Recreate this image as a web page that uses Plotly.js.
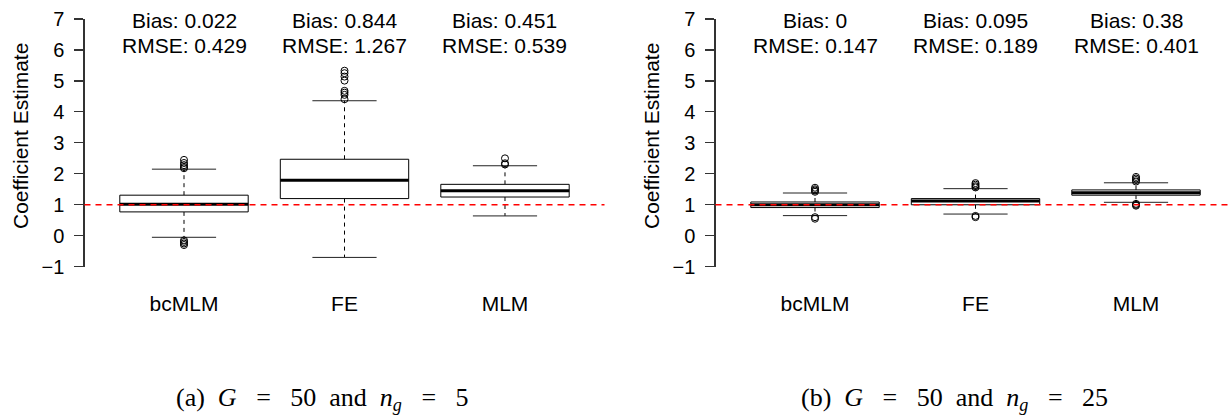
<!DOCTYPE html>
<html>
<head>
<meta charset="utf-8">
<script src="https://cdn.plot.ly/plotly-3.0.1.min.js"></script>
<style>html,body{margin:0;padding:0;background:#fff;}#chart{width:1230px;height:417px;}</style>
</head>
<body>
<div id="chart"></div>
<script>
// ---------- data ----------
const categories = ['bcMLM', 'FE', 'MLM'];
const yTicks = [-1, 0, 1, 2, 3, 4, 5, 6, 7];
const trueValue = 1;

// Panel (a): G = 50, n_g = 5
const aQ1 = [0.77, 1.20, 1.25];
const aMedian = [1.02, 1.79, 1.455];
const aQ3 = [1.31, 2.47, 1.66];
const aLowerWhisker = [-0.05, -0.70, 0.64];
const aUpperWhisker = [2.15, 4.36, 2.26];
const aOutliers = [
  [2.18, 2.22, 2.28, 2.35, 2.45, -0.15, -0.2, -0.25, -0.3],
  [4.41, 4.55, 4.62, 4.68, 5.01, 5.14, 5.25, 5.33],
  [2.3, 2.34, 2.5]
];
const aBias = ['0.022', '0.844', '0.451'];
const aRmse = ['0.429', '1.267', '0.539'];
const aCaption = '(a)&nbsp;&nbsp;<i>G</i>&nbsp;&nbsp;&nbsp;=&nbsp;&nbsp;&nbsp;50&nbsp;&nbsp;and&nbsp;&nbsp;<i>n<sub>g</sub></i>&nbsp;&nbsp;&nbsp;=&nbsp;&nbsp;&nbsp;5';

// Panel (b): G = 50, n_g = 25
const bQ1 = [0.91, 1.00, 1.31];
const bMedian = [1.00, 1.12, 1.39];
const bQ3 = [1.09, 1.20, 1.48];
const bLowerWhisker = [0.65, 0.70, 1.08];
const bUpperWhisker = [1.38, 1.52, 1.71];
const bOutliers = [
  [1.42, 1.46, 1.5, 1.55, 0.55, 0.6],
  [1.56, 1.6, 1.65, 1.7, 0.6, 0.64],
  [1.75, 1.8, 1.85, 1.9, 0.97, 1.0, 1.03]
];
const bBias = ['0', '0.095', '0.38'];
const bRmse = ['0.147', '0.189', '0.401'];
const bCaption = '(b)&nbsp;&nbsp;<i>G</i>&nbsp;&nbsp;&nbsp;=&nbsp;&nbsp;&nbsp;50&nbsp;&nbsp;and&nbsp;&nbsp;<i>n<sub>g</sub></i>&nbsp;&nbsp;&nbsp;=&nbsp;&nbsp;&nbsp;25';

// ---------- drawing ----------
const SANS = 'Liberation Sans, Arial, sans-serif';
const SERIF = 'Liberation Serif, Times New Roman, serif';
const HALF = 0.4;   // half box width (R default width 0.8)
const CAP = 0.2;    // half staple width

function panelTraces(q1, med, q3, lo, hi, outs, xa, ya) {
  const pos = categories.map((c, i) => i + 1);
  const boxX = [], boxY = [], medX = [], medY = [], whX = [], whY = [], capX = [], capY = [], oX = [], oY = [];
  pos.forEach((p, i) => {
    boxX.push(p - HALF, p + HALF, p + HALF, p - HALF, p - HALF, null);
    boxY.push(q1[i], q1[i], q3[i], q3[i], q1[i], null);
    medX.push(p - HALF, p + HALF, null);
    medY.push(med[i], med[i], null);
    whX.push(p, p, null, p, p, null);
    whY.push(q3[i], hi[i], null, q1[i], lo[i], null);
    capX.push(p - CAP, p + CAP, null, p - CAP, p + CAP, null);
    capY.push(hi[i], hi[i], null, lo[i], lo[i], null);
    outs[i].forEach(v => { oX.push(p); oY.push(v); });
  });
  const common = {xaxis: xa, yaxis: ya, showlegend: false, hoverinfo: 'skip', type: 'scatter'};
  return [
    Object.assign({x: whX, y: whY, mode: 'lines', line: {color: '#000', width: 1, dash: '4px,4px'}}, common),
    Object.assign({x: capX, y: capY, mode: 'lines', line: {color: '#222', width: 1}}, common),
    Object.assign({x: boxX, y: boxY, mode: 'lines', fill: 'toself', fillcolor: 'rgba(255,255,255,1)', line: {color: '#000', width: 1}}, common),
    Object.assign({x: medX, y: medY, mode: 'lines', line: {color: '#000', width: 3}}, common),
    Object.assign({x: oX, y: oY, mode: 'markers', marker: {symbol: 'circle-open', size: 7, color: '#000', line: {width: 1}}}, common)
  ];
}

const data = [].concat(
  panelTraces(aQ1, aMedian, aQ3, aLowerWhisker, aUpperWhisker, aOutliers, 'x', 'y'),
  panelTraces(bQ1, bMedian, bQ3, bLowerWhisker, bUpperWhisker, bOutliers, 'x2', 'y2')
);

const W = 1230, H = 417;
const yDom = [(H - 266.7) / H, (H - 19) / H];

function yAxis() {
  return {
    domain: yDom, range: [-1, 7], tickvals: yTicks, ticktext: yTicks.map(v => v < 0 ? '\u2212' + Math.abs(v) : String(v)),
    showgrid: false, zeroline: false, showline: true, linecolor: '#333', linewidth: 1.2,
    ticks: 'outside', ticklen: 9, tickwidth: 1.2, tickcolor: '#333', ticklabelstandoff: 6,
    tickfont: {family: SANS, size: 20, color: '#000'}, fixedrange: true
  };
}
function xAxis(dom, range, anchor) {
  return {
    domain: dom, range: range, anchor: anchor, tickvals: [1, 2, 3], ticktext: categories,
    showgrid: false, zeroline: false, showline: false, ticks: '', ticklabelstandoff: 22,
    tickfont: {family: SANS, size: 21, color: '#000'}, fixedrange: true
  };
}

const annotations = [];
[[aBias, aRmse, 'x', 'y'], [bBias, bRmse, 'x2', 'y2']].forEach(([bias, rmse, xr, yr]) => {
  categories.forEach((c, i) => {
    annotations.push({x: i + 1, y: 7, xref: xr, yref: yr, text: 'Bias: ' + bias[i], showarrow: false,
      xanchor: 'center', yanchor: 'middle', yshift: -1, font: {family: SANS, size: 21, color: '#000'}});
    annotations.push({x: i + 1, y: 7, xref: xr, yref: yr, text: 'RMSE: ' + rmse[i], showarrow: false,
      xanchor: 'center', yanchor: 'middle', yshift: -26, font: {family: SANS, size: 21, color: '#000'}});
  });
});
[[20 / W], [651 / W]].forEach(([xp]) => {
  annotations.push({x: xp, y: (H - 136) / H, xref: 'paper', yref: 'paper', text: 'Coefficient Estimate',
    textangle: -90, showarrow: false, xanchor: 'center', yanchor: 'middle',
    font: {family: SANS, size: 21, color: '#000'}});
});
annotations.push({x: 323 / W, y: (H - 399) / H, xref: 'paper', yref: 'paper', text: aCaption, showarrow: false,
  xanchor: 'center', yanchor: 'middle', font: {family: SERIF, size: 26, color: '#000'}});
annotations.push({x: 955 / W, y: (H - 399) / H, xref: 'paper', yref: 'paper', text: bCaption, showarrow: false,
  xanchor: 'center', yanchor: 'middle', font: {family: SERIF, size: 26, color: '#000'}});

const shapes = [
  {type: 'line', xref: 'x domain', yref: 'y', x0: 0, x1: 1, y0: trueValue, y1: trueValue, layer: 'above',
    line: {color: '#ff0000', width: 1.5, dash: '6px,5px'}},
  {type: 'line', xref: 'x2 domain', yref: 'y2', x0: 0, x1: 1, y0: trueValue, y1: trueValue, layer: 'above',
    line: {color: '#ff0000', width: 1.5, dash: '6px,5px'}}
];

const layout = {
  width: W, height: H,
  margin: {l: 0, r: 0, t: 0, b: 0},
  paper_bgcolor: '#fff', plot_bgcolor: 'rgba(0,0,0,0)',
  showlegend: false,
  xaxis: xAxis([84.5 / W, 604.5 / W], [0.38, 3.62], 'y'),
  yaxis: Object.assign(yAxis(), {anchor: 'x'}),
  xaxis2: xAxis([715.5 / W, 1], [0.38, 0.38 + (W - 715.5) / 160.5], 'y2'),
  yaxis2: Object.assign(yAxis(), {anchor: 'x2'}),
  annotations: annotations,
  shapes: shapes
};

Plotly.newPlot('chart', data, layout, {displayModeBar: false, staticPlot: true});
</script>
</body>
</html>
